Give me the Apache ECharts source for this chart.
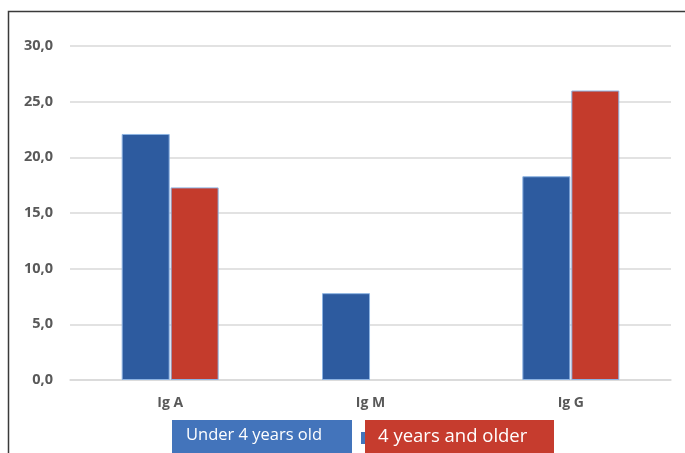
<!DOCTYPE html>
<html>
<head>
<meta charset="utf-8">
<script src="https://cdn.jsdelivr.net/npm/echarts@6/dist/echarts.min.js"></script>
<style>
  html, body { margin: 0; padding: 0; background: #fff; }
  #main { width: 685px; height: 453px; }
</style>
</head>
<body>
<div id="main"></div>
<script>
// data
const categories = ["Ig A", "Ig M", "Ig G"];
const under4 = [22.1, 7.8, 18.3];
const older4 = [17.3, null, 26.0];
const seriesNames = ["Under 4 years old", "4 years and older"];

const barBlue = "#2d5b9f";
const barRed = "#c43b2c";

let myChart = echarts.init(document.getElementById("main"));
myChart.setOption({
  backgroundColor: "#fff",
  animation: false,
  grid: { left: 70, right: 14, top: 46, bottom: 73 },
  xAxis: {
    type: "category",
    data: categories,
    axisTick: { show: false },
    axisLine: { lineStyle: { color: "#d9d9d9", width: 1.5 } },
    axisLabel: {
      color: "#595959",
      fontFamily: "Open Sans",
      fontWeight: "bold",
      fontSize: 14,
      margin: 16,
    },
  },
  yAxis: {
    type: "value",
    min: 0,
    max: 30,
    interval: 5,
    axisLine: { show: false },
    axisTick: { show: false },
    splitLine: { lineStyle: { color: "#d9d9d9", width: 1.5 } },
    axisLabel: {
      color: "#595959",
      fontFamily: "Open Sans",
      fontWeight: "bold",
      fontSize: 14.5,
      margin: 17,
      formatter: (v) => v.toFixed(1).replace(".", ","),
    },
  },
  series: [
    {
      name: seriesNames[0],
      type: "bar",
      data: under4,
      barWidth: 48,
      barGap: "2%",
      itemStyle: { color: barBlue, borderColor: "#8db3e2", borderWidth: 1 },
    },
    {
      name: seriesNames[1],
      type: "bar",
      data: older4,
      barWidth: 48,
      itemStyle: { color: barRed, borderColor: "#8db3e2", borderWidth: 1 },
    },
  ],
  //外框和图例方块
  graphic: [
    {
      type: "rect",
      shape: { x: 8.5, y: 11.5, width: 700, height: 460 },
      style: { fill: null, stroke: "#3a3a3a", lineWidth: 1.5 },
    },
    {
      type: "rect",
      shape: { x: 172, y: 420, width: 180, height: 40 },
      style: { fill: "#4374bb" },
    },
    {
      type: "text",
      left: 186,
      top: 427,
      style: {
        text: seriesNames[0],
        fill: "#fff",
        font: "16.5px 'Open Sans'",
      },
    },
    {
      type: "rect",
      shape: { x: 361, y: 432, width: 6, height: 12 },
      style: { fill: "#4374bb" },
    },
    {
      type: "rect",
      shape: { x: 365, y: 420, width: 189, height: 40 },
      style: { fill: "#c63c2e" },
    },
    {
      type: "text",
      left: 378,
      top: 427,
      style: {
        text: seriesNames[1],
        fill: "#fff",
        font: "18.5px 'Open Sans'",
      },
    },
  ],
});
</script>
</body>
</html>
